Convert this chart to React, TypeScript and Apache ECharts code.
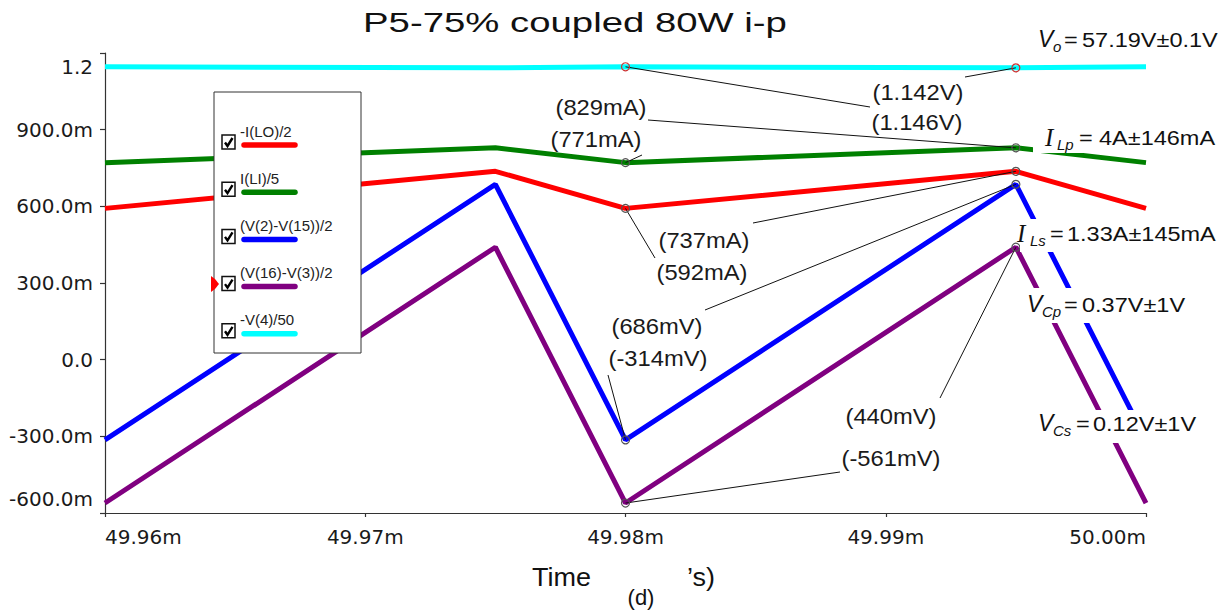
import React, { useEffect, useRef } from "react";
import * as echarts from "echarts";

// ---- data (time in ms, values in V / A) ----
const timeMs = [49.96, 49.975, 49.98, 49.995, 50.0];
const iLOhalf = [0.592, 0.737, 0.592, 0.737, 0.592];
const iLIfifth = [0.771, 0.829, 0.771, 0.829, 0.771];
const vCpHalf = [-0.314, 0.686, -0.314, 0.686, -0.314];
const vCsHalf = [-0.561, 0.44, -0.561, 0.44, -0.561];
const voFiftieth = [1.146, 1.142, 1.146, 1.142, 1.146];

const seriesNames = ["-I(LO)/2", "I(LI)/5", "(V(2)-V(15))/2", "(V(16)-V(3))/2", "-V(4)/50"];
const seriesColors = ["#ff0000", "#008000", "#0000ff", "#800080", "#00ffff"];
const seriesValues = [iLOhalf, iLIfifth, vCpHalf, vCsHalf, voFiftieth];

const xTickValues = [49.96, 49.97, 49.98, 49.99, 50.0];
const xTickLabels = ["49.96m", "49.97m", "49.98m", "49.99m", "50.00m"];
const yTickValues = [-0.6, -0.3, 0, 0.3, 0.6, 0.9, 1.2];
const yTickLabels = ["-600.0m", "-300.0m", "0.0", "300.0m", "600.0m", "900.0m", "1.2"];

const titleText = "P5-75% coupled 80W i-p";

// annotations: series index, point index, unit
const annotations = [
  { s: 4, p: 2, unit: "V", lx: 917, ly: 122, ex: 870, ey: 107 },
  { s: 4, p: 3, unit: "V", lx: 918, ly: 92, ex: 965, ey: 77 },
  { s: 1, p: 3, unit: "mA", lx: 601, ly: 107, ex: 648, ey: 120 },
  { s: 1, p: 2, unit: "mA", lx: 596, ly: 139, ex: 642, ey: 155 },
  { s: 0, p: 3, unit: "mA", lx: 704, ly: 240, ex: 753, ey: 223 },
  { s: 0, p: 2, unit: "mA", lx: 702, ly: 272, ex: 655, ey: 258 },
  { s: 2, p: 3, unit: "mV", lx: 657, ly: 326, ex: 705, ey: 310 },
  { s: 2, p: 2, unit: "mV", lx: 658, ly: 358, ex: 608, ey: 375 },
  { s: 3, p: 3, unit: "mV", lx: 891, ly: 416, ex: 940, ey: 398 },
  { s: 3, p: 2, unit: "mV", lx: 891, ly: 458, ex: 840, ey: 472 },
];

const formulas = [
  { main: "V", serif: false, sub: "o", rest: "57.19V±0.1V", mx: 1038, sx: 1053, ex: 1064, rx: 1082, y: 40, box: null },
  { main: "I", serif: true, sub: "Lp", rest: "4A±146mA", mx: 1045, sx: 1057, ex: 1079, rx: 1099, y: 138, box: [1033, 124, 187, 29] },
  { main: "I", serif: true, sub: "Ls", rest: "1.33A±145mA", mx: 1017, sx: 1030, ex: 1050, rx: 1067, y: 234, box: [1020, 219, 202, 33] },
  { main: "V", serif: false, sub: "Cp", rest: "0.37V±1V", mx: 1027, sx: 1042, ex: 1064, rx: 1082, y: 305, box: [1020, 288, 172, 35] },
  { main: "V", serif: false, sub: "Cs", rest: "0.12V±1V", mx: 1038, sx: 1053, ex: 1076, rx: 1093, y: 424, box: [1033, 410, 170, 33] },
];

const SANS = "'Liberation Sans', Arial, sans-serif";
const SERIF = "'Liberation Serif', 'Times New Roman', serif";
const AXISFONT = "'DejaVu Sans', sans-serif";

function txt(text: string, x: number, y: number, o: any = {}) {
  return {
    type: "text",
    x,
    y,
    scaleX: o.scaleX ?? 1,
    z: 120,
    silent: true,
    style: {
      text,
      fill: o.fill ?? "#1a1a1a",
      fontSize: o.size ?? 20,
      fontFamily: o.family ?? SANS,
      fontStyle: o.italic ? "italic" : "normal",
      fontWeight: o.weight ?? "normal",
      align: o.align ?? "left",
      textAlign: o.align ?? "left",
      verticalAlign: "middle",
      textVerticalAlign: "middle",
    },
  };
}

function fmtAnno(v: number, unit: string) {
  if (unit === "V") return "(" + v.toFixed(3) + "V)";
  return "(" + Math.round(v * 1000) + unit + ")";
}

export default function App() {
  const ref = useRef<HTMLDivElement>(null);
  useEffect(() => {
    if (!ref.current) return;
    const chart = echarts.init(ref.current, null, { renderer: "svg" });
    const option: any = {
      animation: false,
      backgroundColor: "#ffffff",
      grid: { left: 105, right: 80, top: 53, bottom: 99, containLabel: false },
      xAxis: {
        type: "value",
        min: 49.96,
        max: 50.0,
        interval: 0.01,
        splitLine: { show: false },
        axisLine: { show: true, onZero: false, lineStyle: { color: "#333", width: 1.2 } },
        axisTick: { show: true, length: 4, lineStyle: { color: "#333", width: 1.2 } },
        axisLabel: {
          fontFamily: AXISFONT,
          fontSize: 20,
          color: "#1a1a1a",
          margin: 14,
          alignMinLabel: "left",
          alignMaxLabel: "right",
          formatter: (v: number) => {
            const i = xTickValues.findIndex((t) => Math.abs(t - v) < 1e-6);
            return i >= 0 ? xTickLabels[i] : "";
          },
        },
      },
      yAxis: {
        type: "value",
        min: -0.6,
        max: 1.2,
        interval: 0.3,
        splitLine: { show: false },
        axisLine: { show: true, onZero: false, lineStyle: { color: "#333", width: 1.2 } },
        axisTick: { show: true, length: 5, lineStyle: { color: "#333", width: 1.2 } },
        axisLabel: {
          fontFamily: AXISFONT,
          fontSize: 20,
          lineHeight: 28,
          color: "#1a1a1a",
          margin: 12,
          verticalAlignMaxLabel: "top",
          verticalAlignMinLabel: "bottom",
          formatter: (v: number) => {
            const i = yTickValues.findIndex((t) => Math.abs(t - v) < 1e-6);
            return i >= 0 ? yTickLabels[i] : "";
          },
        },
      },
      series: seriesNames.map((name, si) => ({
        name,
        type: "line",
        symbol: "none",
        z: 2 + si,
        lineStyle: { color: seriesColors[si], width: 5 },
        data: timeMs.map((t, i) => [t, seriesValues[si][i]]),
      })),
    };
    chart.setOption(option);

    const toPx = (x: number, y: number) => chart.convertToPixel({ gridIndex: 0 }, [x, y]) as number[];
    const els: any[] = [];

    // title
    els.push(txt(titleText, 575, 23, { size: 27, scaleX: 1.42, align: "center", fill: "#111" }));

    // annotations
    annotations.forEach((a) => {
      const v = seriesValues[a.s][a.p];
      const [px, py] = toPx(timeMs[a.p], v);
      els.push({
        type: "line",
        z: 110,
        silent: true,
        shape: { x1: px, y1: py, x2: a.ex, y2: a.ey },
        style: { stroke: "#111", lineWidth: 1 },
      });
      els.push({
        type: "circle",
        z: 111,
        silent: true,
        shape: { cx: px, cy: py, r: 4 },
        style: { fill: "none", stroke: a.s === 4 ? "#cc3333" : "#555", lineWidth: 1.2 },
      });
      els.push(txt(fmtAnno(v, a.unit), a.lx, a.ly, { size: 22, scaleX: 1.08, align: "center" }));
    });

    // formulas on the right
    formulas.forEach((f) => {
      if (f.box) {
        els.push({
          type: "rect",
          z: 115,
          silent: true,
          shape: { x: f.box[0], y: f.box[1], width: f.box[2], height: f.box[3] },
          style: { fill: "#ffffff" },
        });
      }
      els.push(
        txt(f.main, f.mx, f.y - 1, {
          size: f.serif ? 25 : 23,
          family: f.serif ? SERIF : SANS,
          italic: true,
          fill: "#111",
        })
      );
      els.push(txt(f.sub, f.sx, f.y + 6, { size: 15, italic: true, fill: "#111" }));
      els.push(txt("=", f.ex, f.y, { size: 21, scaleX: 1.12, fill: "#111" }));
      els.push(txt(f.rest, f.rx, f.y, { size: 21, scaleX: 1.12, fill: "#111" }));
    });

    // legend box
    const lbX = 214, lbY = 92, lbW = 147, lbH = 261;
    els.push({
      type: "rect",
      z: 130,
      silent: true,
      shape: { x: lbX, y: lbY, width: lbW, height: lbH },
      style: { fill: "#ffffff", stroke: "#333", lineWidth: 1 },
    });
    els.push(txt("LEGEND", 287, 107, { size: 15.5, align: "center", fill: "#333" }));
    seriesNames.forEach((name, i) => {
      const dy = i * 47.2;
      els.push({ ...txt(name, 240, 131 + dy, { size: 15, fill: "#222" }), z: 131 });
      els.push({
        type: "line",
        z: 131,
        silent: true,
        shape: { x1: 244, y1: 145 + dy, x2: 295, y2: 145 + dy },
        style: { stroke: seriesColors[i], lineWidth: 5.5, lineCap: "round" },
      });
      const cx = 222, cy = 135 + dy;
      els.push({
        type: "rect",
        z: 131,
        silent: true,
        shape: { x: cx, y: cy, width: 13, height: 14 },
        style: { fill: "#fff", stroke: "#111", lineWidth: 1.5 },
      });
      els.push({
        type: "polyline",
        z: 132,
        silent: true,
        shape: { points: [[cx + 3, cy + 7.5], [cx + 5.5, cy + 11], [cx + 10.5, cy + 3]] },
        style: { stroke: "#000", lineWidth: 2.4, fill: "none" },
      });
    });
    // red cursor marker at legend edge
    els.push({
      type: "polygon",
      z: 133,
      silent: true,
      shape: { points: [[211, 276], [215, 279], [219, 284], [215, 289], [211, 292]] },
      style: { fill: "#ff0000" },
    });

    // x-axis name remnants
    els.push(txt("Time", 532, 577, { size: 25, scaleX: 1.08, fill: "#111" }));
    els.push(txt("\u2019s)", 687, 577, { size: 25, scaleX: 1.08, fill: "#111" }));
    els.push(txt("(d)", 641, 597, { size: 22, align: "center", fill: "#111" }));

    chart.setOption({ graphic: { elements: els } });
    return () => chart.dispose();
  }, []);

  return (
    <div
      ref={ref}
      style={{ position: "fixed", left: 0, top: 0, width: 1226, height: 612, background: "#fff" }}
    />
  );
}
